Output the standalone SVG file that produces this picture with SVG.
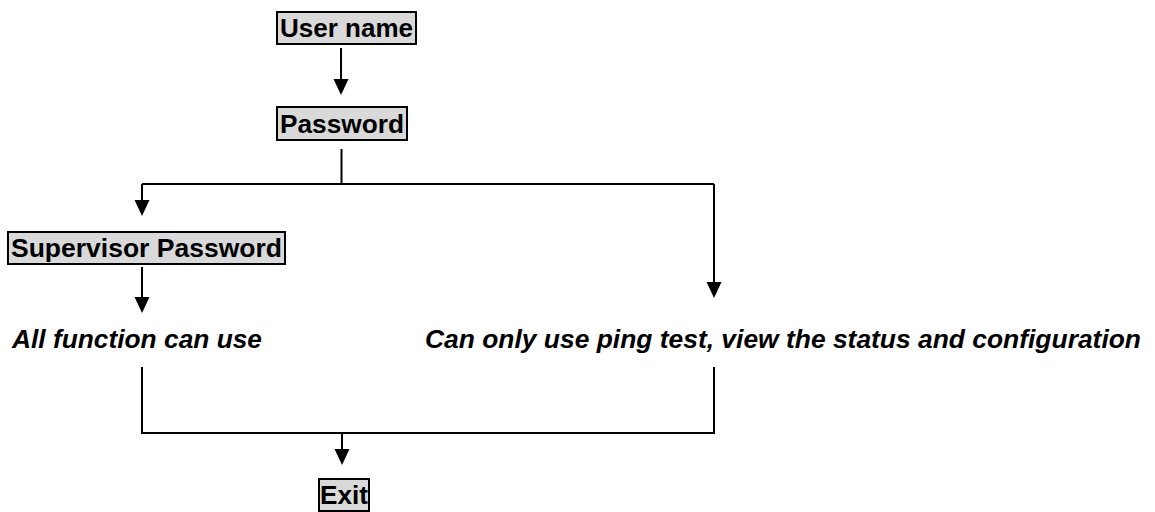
<svg xmlns="http://www.w3.org/2000/svg" width="1155" height="512" viewBox="0 0 1155 512">
<style>
  .box { fill: #d9d9d9; stroke: #000; stroke-width: 2; }
  .lbl { font-family: "Liberation Sans", Arial, sans-serif; font-weight: bold; font-size: 26px; fill: #000; }
  .note { font-family: "Liberation Sans", Arial, sans-serif; font-weight: bold; font-style: italic; font-size: 26px; fill: #000; }
  .wire { fill: none; stroke: #000; stroke-width: 2; }
</style>
<defs>
  <marker id="arr" markerUnits="userSpaceOnUse" viewBox="0 0 16 16" refX="10" refY="8" markerWidth="16" markerHeight="16" orient="auto">
    <path d="M0,0.5 L16,8 L0,15.5 Z" fill="#000"/>
  </marker>
</defs>
<rect width="1155" height="512" fill="#fff"/>
<g id="connectors">
  <path class="wire" d="M341,48 V89" marker-end="url(#arr)"/>
  <path class="wire" d="M341.5,149 V184"/>
  <path class="wire" d="M142,184 H714"/>
  <path class="wire" d="M142,184 V210" marker-end="url(#arr)"/>
  <path class="wire" d="M714,184 V292" marker-end="url(#arr)"/>
  <path class="wire" d="M142,267 V307" marker-end="url(#arr)"/>
  <path class="wire" d="M142,367 V433 H714 V367"/>
  <path class="wire" d="M342,433 V459" marker-end="url(#arr)"/>
</g>
<g id="node-username">
  <rect class="box" x="277" y="12" width="139" height="32"/>
  <text class="lbl" x="280" y="37" textLength="133" lengthAdjust="spacingAndGlyphs">User name</text>
</g>
<g id="node-password">
  <rect class="box" x="277" y="107" width="130" height="33"/>
  <text class="lbl" x="280" y="133" textLength="124" lengthAdjust="spacingAndGlyphs">Password</text>
</g>
<g id="node-supervisor">
  <rect class="box" x="8" y="232" width="277" height="32"/>
  <text class="lbl" x="11" y="257" textLength="271" lengthAdjust="spacingAndGlyphs">Supervisor Password</text>
</g>
<g id="node-allfunction">
  <text class="note" x="12" y="348" textLength="250" lengthAdjust="spacingAndGlyphs">All function can use</text>
</g>
<g id="node-limited">
  <text class="note" x="425" y="348" textLength="716" lengthAdjust="spacingAndGlyphs">Can only use ping test, view the status and configuration</text>
</g>
<g id="node-exit">
  <rect class="box" x="319" y="479" width="50" height="32"/>
  <text class="lbl" x="320" y="504" textLength="48" lengthAdjust="spacingAndGlyphs">Exit</text>
</g>
</svg>
